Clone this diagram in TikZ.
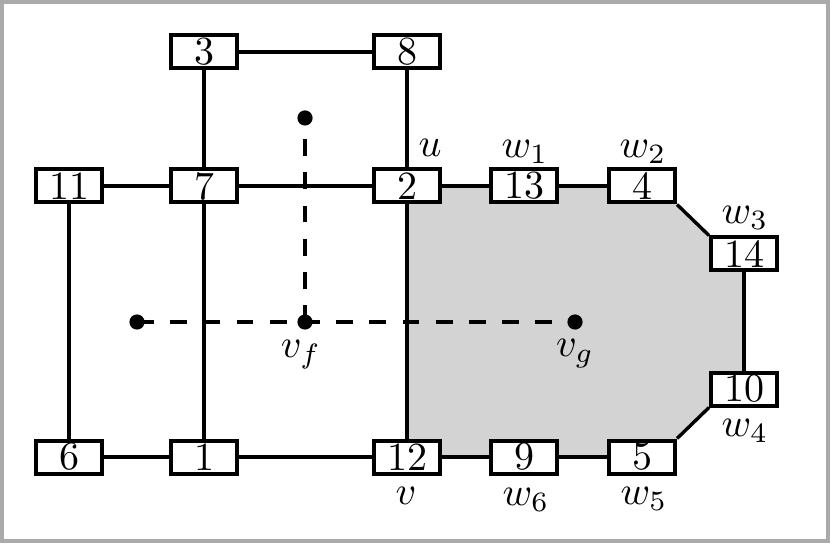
\documentclass[tikz,border=0pt]{standalone}
\usetikzlibrary{calc}
\definecolor{framegray}{RGB}{170,170,170}
\definecolor{regiongray}{RGB}{211,211,211}
\tikzset{
  vbox/.style={draw, line width=1pt, fill=white, minimum width=16.5pt, minimum height=8.25pt, inner sep=0pt},
  edge/.style={line width=0.85pt},
  dashline/.style={line width=0.85pt, dash pattern=on 4.2pt off 4.1pt},
  blackdot/.style={circle, fill=black, inner sep=0pt, minimum size=3.8pt},
  lbl/.style={inner sep=0pt}
}
\begin{document}
\begin{tikzpicture}[x=0.25pt, y=-0.25pt]
\useasboundingbox (0,0) rectangle (830,543);
\draw[framegray, line width=0.9pt] (1.8,1.8) rectangle (828.2,541.2);
% nodes
\node[vbox] (n3) at (204,52) {3};
\node[vbox] (n8) at (407,52) {8};
\node[vbox] (n11) at (69,186) {11};
\node[vbox] (n7) at (204,186) {7};
\node[vbox] (n2) at (407,186) {2};
\node[vbox] (n13) at (524,186) {13};
\node[vbox] (n4) at (642,186) {4};
\node[vbox] (n14) at (744,254) {14};
\node[vbox] (n10) at (744,389) {10};
\node[vbox] (n6) at (69,457) {6};
\node[vbox] (n1) at (204,457) {1};
\node[vbox] (n12) at (407,457) {12};
\node[vbox] (n9) at (524,457) {9};
\node[vbox] (n5) at (642,457) {5};
% shaded region
\begin{scope}[on background layer/.style={}]
\end{scope}
\fill[regiongray] (n2.center) -- (n4.center) -- (n4.south east) -- (n14.north west) -- (n14.center) -- (n10.center) -- (n10.south west) -- (n5.north east) -- (n5.center) -- (n12.center) -- cycle;
% dots
\coordinate (dtop) at (305,118);
\coordinate (dleft) at (137,322);
\coordinate (dvf) at (305,322);
\coordinate (dvg) at (575,322);
\draw[dashline] (dvf) -- (dtop);
\draw[dashline] (dleft) -- (dvg);
% edges
\draw[edge] (n3) -- (n8);
\draw[edge] (n3) -- (n7);
\draw[edge] (n8) -- (n2);
\draw[edge] (n11) -- (n7);
\draw[edge] (n7) -- (n2);
\draw[edge] (n2) -- (n13);
\draw[edge] (n13) -- (n4);
\draw[edge] (n4.south east) -- (n14.north west);
\draw[edge] (n14) -- (n10);
\draw[edge] (n10.south west) -- (n5.north east);
\draw[edge] (n11) -- (n6);
\draw[edge] (n7) -- (n1);
\draw[edge] (n2) -- (n12);
\draw[edge] (n6) -- (n1);
\draw[edge] (n1) -- (n12);
\draw[edge] (n12) -- (n9);
\draw[edge] (n9) -- (n5);
% redraw boxes on top
\foreach \n/\t in {n3/3,n8/8,n11/11,n7/7,n2/2,n13/13,n4/4,n14/14,n10/10,n6/6,n1/1,n12/12,n9/9,n5/5}
  \node[vbox] at (\n) {\t};
% dots on top
\node[blackdot] (p1) at (dtop) {};
\node[blackdot] (p2) at (dleft) {};
\node[blackdot] (p3) at (dvf) {};
\node[blackdot] (p4) at (dvg) {};
% labels
\node[lbl] (lu) at (430,148) {$u$};
\node[lbl] (lw1) at (525,152) {$w_1$};
\node[lbl] (lw2) at (643,152) {$w_2$};
\node[lbl] (lw3) at (745,218) {$w_3$};
\node[lbl] (lw4) at (745,431) {$w_4$};
\node[lbl] (lw5) at (644,499) {$w_5$};
\node[lbl] (lv) at (406,496) {$v$};
\node[lbl] (lw6) at (526,500) {$w_6$};
\node[lbl] (lvf) at (301,355) {$v_f$};
\node[lbl] (lvg) at (575,354) {$v_g$};
\end{tikzpicture}
\end{document}
